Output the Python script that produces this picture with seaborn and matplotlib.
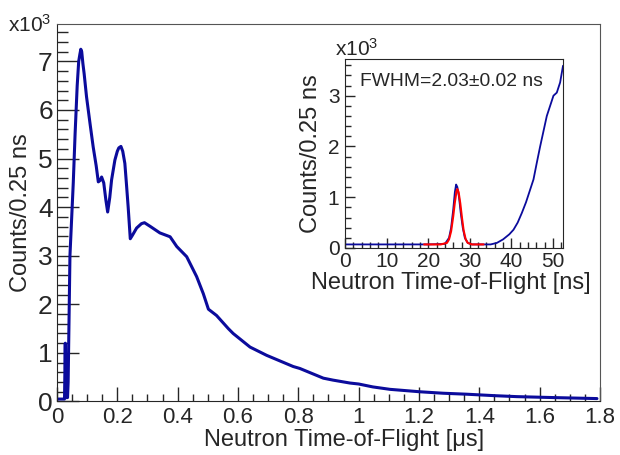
import numpy as np
import pandas as pd
import matplotlib
matplotlib.use('Agg')
import matplotlib.pyplot as plt
import seaborn as sns
from matplotlib.ticker import MultipleLocator

# main spectrum (time in us, counts in thousands)
tof_us = [0.000, 0.025, 0.0275, 0.029, 0.031, 0.035, 0.037, 0.043, 0.054, 0.060,
          0.067, 0.072, 0.076, 0.079, 0.082, 0.086, 0.090, 0.098, 0.110, 0.120,
          0.130, 0.137, 0.143, 0.148, 0.155, 0.162, 0.168, 0.175, 0.181, 0.192,
          0.200, 0.205, 0.212, 0.218, 0.225, 0.230, 0.236, 0.243, 0.250, 0.264,
          0.280, 0.290, 0.310, 0.341, 0.375, 0.397, 0.430, 0.463, 0.485, 0.502,
          0.529, 0.568, 0.584, 0.640, 0.695, 0.783, 0.805, 0.883, 0.915, 0.971,
          1.000, 1.047, 1.104, 1.203, 1.280, 1.358, 1.450, 1.524, 1.650, 1.790]
counts_k = [0.05, 0.05, 1.20, 0.10, 0.08, 0.08, 0.40, 3.00, 4.50, 5.50,
            6.50, 7.00, 7.15, 7.25, 7.20, 6.95, 6.75, 6.27, 5.70, 5.24,
            4.85, 4.52, 4.55, 4.62, 4.50, 4.15, 3.90, 4.20, 4.56, 4.97,
            5.15, 5.22, 5.25, 5.15, 4.90, 4.50, 4.00, 3.35, 3.42, 3.57,
            3.66, 3.68, 3.60, 3.47, 3.39, 3.19, 2.98, 2.57, 2.22, 1.90,
            1.77, 1.50, 1.40, 1.12, 0.95, 0.72, 0.68, 0.48, 0.44, 0.38,
            0.36, 0.30, 0.25, 0.20, 0.17, 0.15, 0.12, 0.10, 0.08, 0.06]

# inset, zoom on the gamma flash (ns, thousands)
tof_ns = [0.0, 5.0, 10.0, 15.0, 20.0, 24.0, 25.0, 25.5, 26.0, 26.4,
          26.7, 27.0, 27.4, 27.8, 28.3, 28.8, 29.5, 30.5, 33.0, 35.0,
          36.5, 38.0, 39.5, 40.5, 41.5, 42.5, 43.5, 44.5, 45.3, 46.1,
          46.9, 47.7, 48.5, 49.3, 50.1, 50.9, 51.7, 52.4]
inset_k = [0.07, 0.07, 0.07, 0.07, 0.07, 0.08, 0.20, 0.40, 0.75, 1.10,
           1.25, 1.20, 1.00, 0.70, 0.40, 0.20, 0.10, 0.07, 0.07, 0.07,
           0.10, 0.17, 0.27, 0.36, 0.50, 0.69, 0.90, 1.15, 1.35, 1.68,
           2.00, 2.30, 2.60, 2.80, 3.00, 3.06, 3.26, 3.59]

# gaussian fit drawn in red
fit_ns = [19.0, 23.0, 24.5, 25.0, 25.5, 26.0, 26.4, 26.8, 27.0, 27.3,
          27.7, 28.1, 28.5, 29.0, 29.5, 30.5, 33.3]
fit_k = [0.07, 0.07, 0.10, 0.17, 0.33, 0.62, 0.90, 1.12, 1.16, 1.10,
         0.88, 0.60, 0.35, 0.17, 0.10, 0.07, 0.07]

fwhm_text = 'FWHM=2.03\u00b10.02 ns'

sns.set_style('ticks')
plt.rcParams['font.family'] = ['Liberation Sans', 'DejaVu Sans']
plt.rcParams['mathtext.fontset'] = 'custom'
plt.rcParams['mathtext.rm'] = 'Liberation Sans'
plt.rcParams['mathtext.it'] = 'Liberation Sans'

blue = '#0b0b9c'

fig = plt.figure(figsize=(6.2, 4.55), dpi=100)
ax = fig.add_axes([0.0919, 0.1176, 0.8758, 0.8297])

main_df = pd.DataFrame({'t': tof_us, 'c': counts_k})
sns.lineplot(data=main_df, x='t', y='c', ax=ax, color=blue, lw=2.2,
             sort=False, estimator=None)
ax.set_xlim(0, 1.8)
ax.set_ylim(0, 7.77)
ax.xaxis.set_major_locator(MultipleLocator(0.2))
ax.xaxis.set_minor_locator(MultipleLocator(0.05))
ax.yaxis.set_major_locator(MultipleLocator(1))
ax.yaxis.set_minor_locator(MultipleLocator(0.2))
ax.xaxis.set_major_formatter(plt.FuncFormatter(lambda v, p: f'{v:g}'))
ax.tick_params(axis='x', which='major', direction='in', length=10, width=1,
               labelsize=16, pad=4)
ax.tick_params(axis='x', which='minor', direction='in', length=5, width=1)
ax.tick_params(axis='y', which='major', direction='in', length=16, width=1,
               labelsize=19, pad=3)
ax.tick_params(axis='y', which='minor', direction='in', length=8, width=1)
for s in ['top', 'right']:
    ax.spines[s].set_color('#555555')
ax.set_xlabel('Neutron Time-of-Flight [\u03bcs]', fontsize=17)
ax.set_ylabel('Counts/0.25 ns', fontsize=17)
ax.xaxis.set_label_coords(0.528, -0.072)
ax.yaxis.set_label_coords(-0.046, 0.5)
fig.text(8 / 620, 1 - 32 / 455, r'x10$^{3}$', fontsize=15)

# inset
ins = fig.add_axes([0.5565, 0.455, 0.3516, 0.415])
ins_df = pd.DataFrame({'t': tof_ns, 'c': inset_k})
fit_df = pd.DataFrame({'t': fit_ns, 'c': fit_k})
sns.lineplot(data=ins_df, x='t', y='c', ax=ins, color=blue, lw=1.3,
             sort=False, estimator=None)
sns.lineplot(data=fit_df, x='t', y='c', ax=ins, color='red', lw=1.5,
             sort=False, estimator=None)
ins.set_xlim(0, 52.4)
ins.set_ylim(0, 3.72)
ins.xaxis.set_major_locator(MultipleLocator(10))
ins.xaxis.set_minor_locator(MultipleLocator(2))
ins.yaxis.set_major_locator(MultipleLocator(1))
ins.yaxis.set_minor_locator(MultipleLocator(0.2))
ins.tick_params(which='major', direction='in', length=7, width=1,
                labelsize=15)
ins.tick_params(axis='x', which='major', pad=3)
ins.tick_params(axis='y', which='major', pad=4)
ins.tick_params(which='minor', direction='in', length=4, width=1)
ins.set_xlabel('Neutron Time-of-Flight [ns]', fontsize=17)
ins.set_ylabel('Counts/0.25 ns', fontsize=17)
ins.xaxis.set_label_coords(0.485, -0.125)
ins.yaxis.set_label_coords(-0.105, 0.5)
ins.text(0.07, 0.86, fwhm_text, transform=ins.transAxes, fontsize=13.9)
fig.text(335 / 620, 1 - 56 / 455, r'x10$^{3}$', fontsize=15)

fig.savefig('out.png', dpi=100)
